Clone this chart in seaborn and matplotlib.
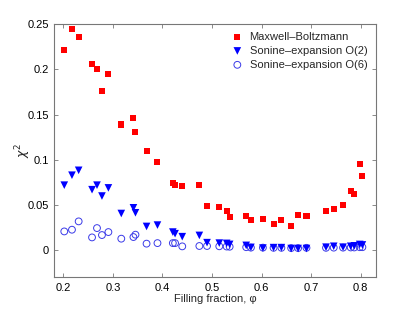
import matplotlib
matplotlib.use("Agg")
import matplotlib.pyplot as plt
import seaborn as sns
import pandas as pd

phi = [0.202, 0.2175, 0.231, 0.258, 0.268, 0.278, 0.291, 0.317, 0.3415, 0.3456,
       0.368, 0.390, 0.421, 0.4255, 0.440, 0.4745, 0.490, 0.5147, 0.5296, 0.5356,
       0.569, 0.5785, 0.6027, 0.6242, 0.640, 0.6597, 0.6737, 0.6906, 0.730, 0.7456,
       0.7644, 0.7798, 0.787, 0.798, 0.8034]

maxwell = [0.221, 0.245, 0.236, 0.206, 0.200, 0.176, 0.195, 0.139, 0.146, 0.131,
           0.110, 0.098, 0.0745, 0.072, 0.071, 0.0727, 0.0485, 0.048, 0.0433, 0.0367,
           0.0378, 0.0338, 0.0345, 0.0294, 0.0338, 0.0268, 0.0389, 0.0378, 0.0437, 0.0455,
           0.0499, 0.0653, 0.062, 0.095, 0.0823]

sonine2 = [0.072, 0.083, 0.0884, 0.067, 0.072, 0.060, 0.069, 0.0407, 0.047, 0.0415,
           0.0264, 0.0279, 0.0202, 0.0184, 0.0151, 0.0165, 0.0085, 0.008, 0.0077, 0.0066,
           0.0055, 0.0033, 0.0025, 0.003, 0.003, 0.002, 0.002, 0.002, 0.0035, 0.0045,
           0.0035, 0.0045, 0.005, 0.0065, 0.006]

sonine6 = [0.0209, 0.0228, 0.032, 0.0143, 0.0246, 0.0169, 0.0202, 0.0129, 0.0147, 0.0173,
           0.0074, 0.008, 0.008, 0.008, 0.0044, 0.0048, 0.0048, 0.0045, 0.0042, 0.004,
           0.0035, 0.003, 0.003, 0.0028, 0.0028, 0.0025, 0.0025, 0.0028, 0.0028, 0.003,
           0.003, 0.0032, 0.0032, 0.0035, 0.0035]

labels = ["Maxwell\u2013Boltzmann", "Sonine\u2013expansion O(2)", "Sonine\u2013expansion O(6)"]
xticks = [0.2, 0.3, 0.4, 0.5, 0.6, 0.7, 0.8]
yticks = [0, 0.05, 0.1, 0.15, 0.2, 0.25]
ytick_labels = ["0", "0.05", "0.1", "0.15", "0.2", "0.25"]

sns.set_style("white")
plt.rcParams['font.family'] = ['Liberation Sans', 'DejaVu Sans']

df = pd.DataFrame({"phi": phi, "mb": maxwell, "s2": sonine2, "s6": sonine6})

fig = plt.figure(figsize=(4.15, 3.12), dpi=100)
ax = fig.add_axes([0.131, 0.112, 0.774, 0.811])

sns.scatterplot(data=df, x="phi", y="mb", ax=ax, marker="s", s=19, color="#ff0000",
                edgecolor="none", label=labels[0], zorder=3)
sns.scatterplot(data=df, x="phi", y="s2", ax=ax, marker="v", s=30, color="#0000ff",
                edgecolor="none", label=labels[1], zorder=3)
sns.scatterplot(data=df, x="phi", y="s6", ax=ax, marker="o", s=24, facecolor="none",
                edgecolor="#3a3ae8", linewidth=0.7, label=labels[2], zorder=2)

ax.set_xlim(0.182, 0.83)
ax.set_ylim(-0.0295, 0.25)
ax.set_xticks(xticks)
ax.set_xticklabels([str(t) for t in xticks])
ax.set_yticks(yticks)
ax.set_yticklabels(ytick_labels)
ax.tick_params(direction="in", length=3, width=0.6, colors="#777777", labelcolor="black",
               labelsize=8, top=True, right=True, bottom=True, left=True, pad=4)
for sp in ax.spines.values():
    sp.set_color("#777777")
    sp.set_linewidth(0.8)

ax.set_xlabel("Filling fraction, \u03c6", fontsize=8, labelpad=1)
ax.set_ylabel("$\\chi^2$", fontsize=9)
ax.yaxis.set_label_coords(-0.065, 0.5)

leg = ax.legend(loc="upper right", frameon=False, fontsize=8, handletextpad=0.5,
                borderaxespad=0.2, labelspacing=0.35, handlelength=1.2,
                bbox_to_anchor=(0.995, 0.995))

fig.savefig("out.png", dpi=100)
